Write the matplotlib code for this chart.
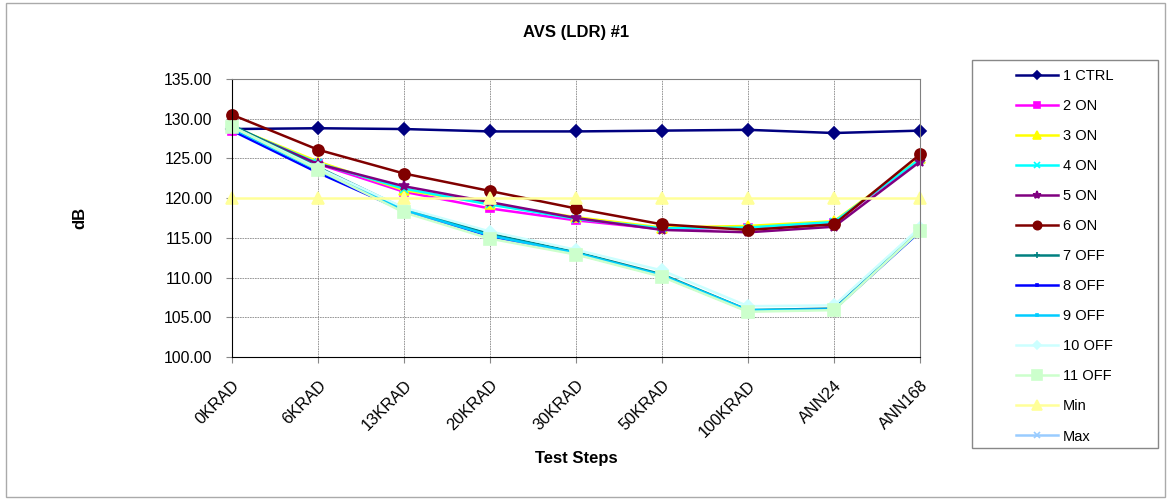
import numpy as np
import matplotlib.pyplot as plt
from matplotlib.patches import Rectangle

plt.rcParams['font.family'] = ['Liberation Sans', 'DejaVu Sans']

# test steps on the x axis
steps = ['0KRAD', '6KRAD', '13KRAD', '20KRAD', '30KRAD', '50KRAD', '100KRAD', 'ANN24', 'ANN168']

# readings in dB
s1_ctrl = [128.7, 128.8, 128.7, 128.4, 128.4, 128.5, 128.6, 128.2, 128.5]
s2_on = [128.5, 124.3, 120.8, 118.7, 117.2, 116.1, 116.3, 116.9, 124.9]
s3_on = [129.0, 124.6, 121.0, 119.3, 117.6, 116.3, 116.5, 117.1, 125.0]
s4_on = [129.0, 124.4, 121.2, 119.2, 117.4, 116.2, 116.3, 117.0, 124.9]
s5_on = [129.0, 124.3, 121.5, 119.5, 117.5, 116.0, 115.7, 116.4, 124.6]
s6_on = [130.5, 126.1, 123.1, 120.9, 118.7, 116.7, 116.0, 116.7, 125.5]
s7_off = [129.2, 123.9, 118.7, 115.5, 113.2, 110.4, 105.9, 106.1, 115.9]
s8_off = [128.5, 123.2, 118.4, 115.2, 113.0, 110.2, 105.8, 106.0, 115.8]
s9_off = [128.8, 123.5, 118.5, 115.3, 113.1, 110.3, 105.9, 106.0, 115.9]
s10_off = [129.0, 123.8, 118.8, 115.8, 113.5, 110.9, 106.4, 106.5, 116.3]
s11_off = [129.0, 123.6, 118.2, 114.9, 112.9, 110.1, 105.7, 105.9, 115.9]
spec_min = [120.0] * 9
spec_max = [np.nan] * 9  # not visible in the plot range

series = [
    ('1 CTRL', s1_ctrl, '#000080', 'D', 6),
    ('2 ON', s2_on, '#FF00FF', 's', 6),
    ('3 ON', s3_on, '#FFFF00', '^', 7),
    ('4 ON', s4_on, '#00FFFF', 'x', 6),
    ('5 ON', s5_on, '#800080', '*', 8),
    ('6 ON', s6_on, '#800000', 'o', 8),
    ('7 OFF', s7_off, '#008080', '+', 6),
    ('8 OFF', s8_off, '#0000FF', 's', 2),
    ('9 OFF', s9_off, '#00CCFF', 's', 2),
    ('10 OFF', s10_off, '#CCFFFF', 'D', 6),
    ('11 OFF', s11_off, '#CCFFCC', 's', 9),
    ('Min', spec_min, '#FFFF99', '^', 9),
    ('Max', spec_max, '#99CCFF', 'x', 6),
]

W, H = 1171, 501
fig = plt.figure(figsize=(W / 100, H / 100), dpi=100)
ax = fig.add_axes([232 / W, 1 - 357 / H, (920 - 232) / W, (357 - 79) / H])
x = np.arange(len(steps))

for name, vals, col, mk, ms in series:
    ax.plot(x, vals, color=col, marker=mk, markersize=ms, linewidth=1.8,
            label=name, clip_on=False, markeredgewidth=1.2)

ax.set_xlim(0, 8)
ax.set_ylim(100, 135)
ax.set_yticks(np.arange(100, 136, 5))
ax.set_yticklabels(['%.2f' % v for v in np.arange(100, 136, 5)], fontsize=11.3)
ax.set_xticks(x)
ax.set_xticklabels(steps, rotation=45, ha='right', rotation_mode='anchor', fontsize=11.8)
ax.grid(True, color='#888888', linestyle=(0, (2, 1)), linewidth=0.6)
ax.tick_params(length=4, color='#888888')
ax.tick_params(axis='y', pad=10)
ax.tick_params(axis='x', pad=11)
for side in ['top', 'right']:
    ax.spines[side].set_color('#808080')
ax.spines['left'].set_color('black')
ax.spines['bottom'].set_color('black')

fig.text(576 / W, 1 - 33 / H, 'AVS (LDR) #1', fontsize=12, fontweight='bold',
         ha='center', va='center')
fig.text(576 / W, 1 - 458 / H, 'Test Steps', fontsize=12, fontweight='bold',
         ha='center', va='center')
fig.text(80 / W, 1 - 218 / H, 'dB', fontsize=12, fontweight='bold',
         ha='center', va='center', rotation=90)

# legend box drawn by hand so its size matches
fig.patches.append(Rectangle((972 / W, 1 - 448 / H), 186 / W, 388 / H,
                             transform=fig.transFigure, fill=False,
                             edgecolor='#888888', linewidth=1.0))
leg = fig.legend(loc='upper left', bbox_to_anchor=(1016 / W, 1 - 69 / H),
                 frameon=False, fontsize=10.5, labelspacing=1.1,
                 handlelength=2.9, handletextpad=0.3, borderpad=0,
                 borderaxespad=0, markerscale=0.75)

fig.patches.append(Rectangle((6 / W, 4 / H), 1159 / W, 494 / H, transform=fig.transFigure,
                             fill=False, edgecolor='#aaaaaa', linewidth=1.0))

fig.savefig('out.png', dpi=100)
